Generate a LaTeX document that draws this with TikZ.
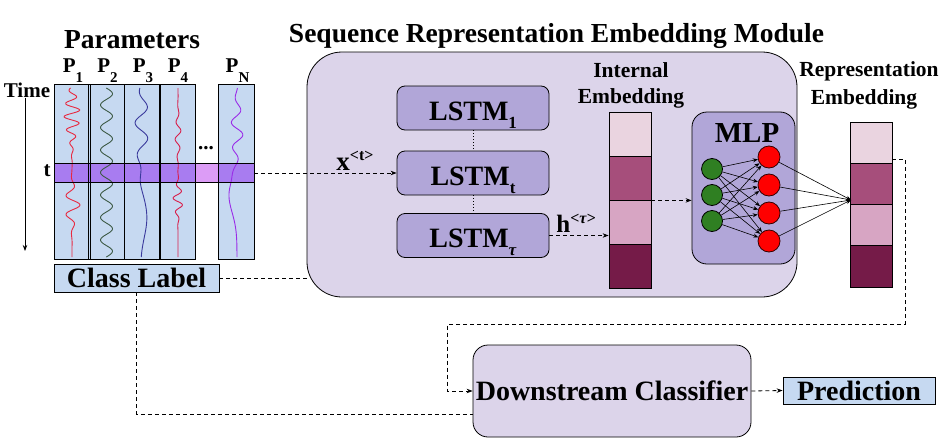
\documentclass[tikz,border=0pt]{standalone}
\usepackage{fontspec}
\setmainfont{Liberation Serif}
\usetikzlibrary{arrows.meta,calc}

\definecolor{colblue}{HTML}{C6D9F1}
\definecolor{bandpurple}{HTML}{A87CF0}
\definecolor{gappink}{HTML}{DC9CF6}
\definecolor{modfill}{HTML}{DCD4EA}
\definecolor{lstmfill}{HTML}{B1A6D8}
\definecolor{embA}{HTML}{EAD4E0}
\definecolor{embB}{HTML}{A64E7B}
\definecolor{embC}{HTML}{D7A5C3}
\definecolor{embD}{HTML}{751B48}
\definecolor{nodegreen}{HTML}{2F7F22}
\definecolor{waveA}{HTML}{E8283F}
\definecolor{waveB}{HTML}{3D5A45}
\definecolor{waveC}{HTML}{3A3A9C}
\definecolor{waveD}{HTML}{D81E4B}
\definecolor{waveN}{HTML}{9A2BE8}

\newcommand{\lowtext}[3]{\raisebox{-#1}{\fontsize{#2}{#2}\selectfont #3}}
\newcommand{\hightext}[3]{\raisebox{#1}{\fontsize{#2}{#2}\selectfont #3}}

\tikzset{
  bigtitle/.style={font=\fontsize{27.5}{30}\selectfont\bfseries, inner sep=0},
  subtitle/.style={font=\fontsize{21.5}{24}\selectfont\bfseries, inner sep=0},
  plabel/.style={font=\fontsize{21}{24}\selectfont\bfseries, inner sep=0},
  col/.style={fill=colblue, minimum width=35pt, minimum height=174pt, inner sep=0},
  lstm/.style={draw, fill=lstmfill, rounded corners=8pt, minimum width=152pt, minimum height=44pt,
    text height=24pt, text depth=0pt, font=\fontsize{28}{30}\selectfont\bfseries},
  lbox/.style={draw, fill=colblue, inner sep=0, font=\fontsize{28}{30}\selectfont\bfseries},
  emb/.style={draw, minimum width=42pt, inner sep=0},
  gnode/.style={circle, draw, fill=nodegreen, minimum size=21pt, inner sep=0},
  rnode/.style={circle, draw=black!80!red, fill=red, minimum size=22pt, inner sep=0},
  dline/.style={dash pattern=on 4pt off 3pt, line width=0.8pt},
  wave/.style={line width=0.9pt},
}

\begin{document}
\begin{tikzpicture}[x=1pt, y=-1pt, >={Stealth[length=6pt,width=4.5pt]}, line width=0.8pt]
\useasboundingbox (0,0) rectangle (941,439);

% embedding module
\node[draw, fill=modfill, rounded corners=35pt, minimum width=490pt, minimum height=245pt] (sem) at (552,174.5) {};
\node[bigtitle, anchor=base] (semtitle) at (556.5,42) {Sequence Representation Embedding Module};

% parameters
\node[bigtitle, anchor=base] (partitle) at (132,48) {Parameters};
\foreach \n/\cx in {1/72, 2/106.5, 3/142, 4/177, N/236.5}{
  \node[col] (p\n) at (\cx,172) {};
  \node[plabel, anchor=base] (lp\n) at (\cx+1,72) {P\lowtext{10pt}{15}{\n}};
}
\node[fill=bandpurple, minimum width=199pt, minimum height=18pt, inner sep=0] (band) at (154.5,173) {};
\fill[gappink] (p4.east |- band.north) rectangle (pN.west |- band.south);

\draw[wave, waveA] plot[variable=\t, domain=88:257, samples=170, smooth]
  ({72+8*sin(27*\t)*exp(-(((\t-115)/25)^2))+8*sin(18*\t)*exp(-(((\t-205)/18)^2))}, \t);
\draw[wave, waveB] plot[variable=\t, domain=88:257, samples=170, smooth]
  ({106.5+6*sin(16*\t+30)}, \t);
\draw[wave, waveC] plot[variable=\t, domain=88:257, samples=170, smooth]
  ({142+7*sin(11*\t)*exp(-(((\t-125)/35)^2))+5*sin(3*(\t-190))*exp(-(((\t-210)/50)^2))}, \t);
\draw[wave, waveD] plot[variable=\t, domain=88:257, samples=170, smooth]
  ({178+3*sin(20*\t)*exp(-(((\t-135)/20)^2))+5*sin(25*\t)*exp(-(((\t-200)/15)^2))}, \t);
\draw[wave, waveN] plot[variable=\t, domain=88:257, samples=170, smooth]
  ({237+6*sin(14*\t)*exp(-(((\t-130)/30)^2))-8*exp(-(((\t-195)/25)^2))}, \t);

\foreach \n in {1,2,3,4,N}
  \draw[line width=0.7pt] (p\n.north west) rectangle (p\n.south east);
\draw[line width=0.7pt] (band.north west) rectangle (band.south east);

\node[plabel, anchor=base] (tlab) at (47,176) {t};
\node[plabel, anchor=base] (time) at (27,97) {Time};
\coordinate (timeend) at (25,251);
\draw[->] (time.south -| timeend) -- (timeend);
\node[plabel] (dots) at (206,148) {...};

\node[lbox, minimum width=165pt, minimum height=28pt] (cl) at (136.5,278) {Class Label};

% lstm stack
\node[lstm] (lstm1) at (473,108) {LSTM\lowtext{8pt}{17}{1}};
\node[lstm] (lstmt) at (473,173) {LSTM\lowtext{8pt}{17}{t}};
\node[lstm] (lstmtau) at (473,235.5) {LSTM\lowtext{8pt}{17}{\textit{τ}}};
\draw[dotted, line width=1pt] (lstm1) -- (lstmt);
\draw[dotted, line width=1pt] (lstmt) -- (lstmtau);

\draw[dline, ->] (band.east) -- (lstmt.west);
\node[anchor=base west, inner sep=0, font=\fontsize{27}{28}\selectfont\bfseries] (xlab) at (336,170)
  {x\hightext{10pt}{16}{<t>}};

% embeddings
\foreach \k/\c in {1/embA, 2/embB, 3/embC, 4/embD}{
  \node[emb, fill=\c, minimum height=44pt] (ie\k) at (630,{112+(\k-0.5)*44}) {};
  \node[emb, fill=\c, minimum height=41.25pt] (re\k) at (871.5,{122+(\k-0.5)*41.25}) {};
}
\node[subtitle, anchor=base] (ielab1) at (631,77) {Internal};
\node[subtitle, anchor=base] (ielab2) at (631,103) {Embedding};
\node[subtitle, anchor=base] (relab1) at (869,76) {Representation};
\node[subtitle, anchor=base] (relab2) at (864,104) {Embedding};

\draw[dline, ->] (lstmtau.east) -- (lstmtau.east -| ie3.west);
\node[anchor=base west, inner sep=0, font=\fontsize{25}{28}\selectfont\bfseries] (hlab) at (556,232)
  {h\hightext{9pt}{16}{<\textit{τ}>}};

% mlp
\node[draw, fill=lstmfill, rounded corners=15pt, minimum width=103pt, minimum height=152pt] (mlp) at (743.5,188) {};
\node[anchor=base, inner sep=0, font=\fontsize{29}{30}\selectfont\bfseries] (mlplab) at (747,142) {MLP};
\draw[dline, ->] (ie2.south east) -- (ie2.south east -| mlp.west);

\foreach \i/\yy in {1/169, 2/195, 3/221}
  \node[gnode] (g\i) at (712,\yy) {};
\foreach \j/\yy in {1/157, 2/185, 3/213, 4/241}
  \node[rnode] (r\j) at (769,\yy) {};
\foreach \i in {1,2,3}
  \foreach \j in {1,...,4}
    \draw[->, line width=0.6pt, >={Stealth[length=5pt,width=4pt]}] (g\i) -- (r\j);

\coordinate (rein) at (851,200);
\foreach \j in {1,...,4}
  \draw[->, line width=0.6pt, >={Stealth[length=5pt,width=4pt]}] (r\j) -- (rein);

% classifier
\node[draw, fill=modfill, rounded corners=15pt, minimum width=278pt, minimum height=92pt, inner sep=0,
  font=\fontsize{28}{30}\selectfont\bfseries] (dc) at (612,391) {Downstream Classifier};
\node[lbox, minimum width=152pt, minimum height=27pt] (pred) at (859,390.5) {Prediction};

\coordinate (reout) at (892,159);
\draw[dline, ->] (reout) -- ++(13,0) |- ($(dc.west)+(-25,-67)$) |- (dc.west);
\draw[dline] (cl.east) -- (cl.east -| sem.west);
\draw[dline] (cl.south) |- ($(dc.west)+(0,23)$);
\draw[dline, ->] (dc.east) -- (pred.west);
\end{tikzpicture}
\end{document}
